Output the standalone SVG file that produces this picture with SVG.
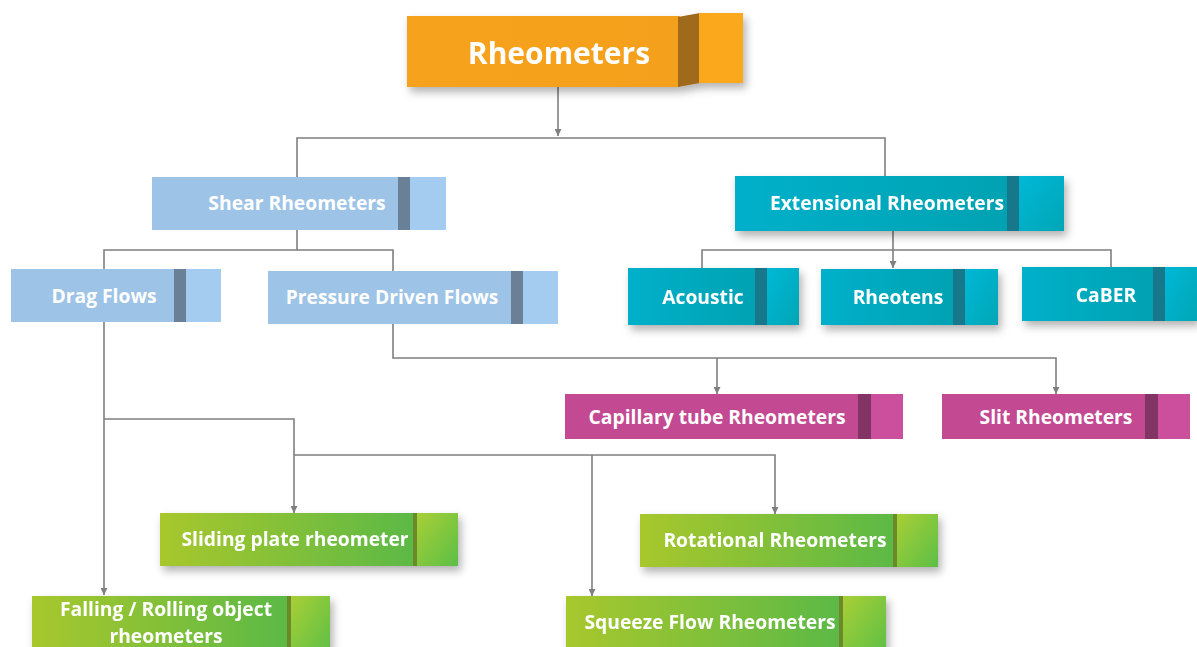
<svg xmlns="http://www.w3.org/2000/svg" width="1197" height="647" viewBox="0 0 1197 647">
<defs>
<style>
text{font-family:"Open Sans","Liberation Sans",sans-serif;font-weight:700;fill:#fff;text-anchor:middle}
.t{font-size:19.3px}
.c{fill:none;stroke:#7f7f7f;stroke-width:1.6}
.blue{fill:#9dc3e6}.blueD{fill:#6a8097}.blueL{fill:#a4ccf0}
.tealD{fill:#17788a}
.magD{fill:#823465}.mag{fill:#c34a92}.magL{fill:#cc4f9d}
.grnD{fill:#6c8a2c}
</style>
<linearGradient id="gOr" x1="0" y1="0" x2="1" y2="0"><stop offset="0" stop-color="#f7a21c"/><stop offset="1" stop-color="#f5a01a"/></linearGradient>
<linearGradient id="gTeal" x1="0" y1="0" x2="1" y2="0"><stop offset="0" stop-color="#00b0ca"/><stop offset="1" stop-color="#00a2b2"/></linearGradient>
<linearGradient id="gTealL" x1="0" y1="0" x2="1" y2="1"><stop offset="0" stop-color="#00b8d6"/><stop offset="1" stop-color="#00a6b6"/></linearGradient>
<linearGradient id="gGrn" x1="0" y1="0" x2="1" y2="0"><stop offset="0" stop-color="#a8c72c"/><stop offset="1" stop-color="#5cb946"/></linearGradient>
<linearGradient id="gGrnL" x1="0" y1="0" x2="1" y2="1"><stop offset="0" stop-color="#a8cf36"/><stop offset="1" stop-color="#5cbf46"/></linearGradient>
<filter id="sh" x="-10%" y="-20%" width="125%" height="160%"><feDropShadow dx="3" dy="5" stdDeviation="4" flood-color="#000" flood-opacity="0.3"/></filter>
<marker id="ar" viewBox="0 0 10 10" refX="10" refY="5" markerWidth="7" markerHeight="7" orient="auto" markerUnits="userSpaceOnUse"><path d="M0,0 L10,5 L0,10 z" fill="#7f7f7f"/></marker>
</defs>

<g id="connectors">
<path class="c" d="M558,87 V136" marker-end="url(#ar)"/>
<path class="c" d="M297,177 V138 H885 V176"/>
<path class="c" d="M297,230 V250 H104 V269"/>
<path class="c" d="M297,250 H393 V271"/>
<path class="c" d="M893,231 V268" marker-end="url(#ar)"/>
<path class="c" d="M702,268 V250 H1111 V267"/>
<path class="c" d="M393,324 V358 H1056 V394" marker-end="url(#ar)"/>
<path class="c" d="M717,358 V394" marker-end="url(#ar)"/>
<path class="c" d="M104,322 V595" marker-end="url(#ar)"/>
<path class="c" d="M104,419 H294 V513" marker-end="url(#ar)"/>
<path class="c" d="M294,455 H775 V514" marker-end="url(#ar)"/>
<path class="c" d="M592,455 V596" marker-end="url(#ar)"/>
</g>

<g id="n-rheometers" filter="url(#sh)">
<rect x="407" y="16" width="273" height="71" fill="url(#gOr)"/>
<polygon points="678,17 700,13 700,83 678,87" fill="#a06a1e"/>
<rect x="699" y="13" width="44" height="70" fill="#fba81e"/>
<text x="559" y="64" font-size="30">Rheometers</text>
</g>

<g id="n-shear">
<rect class="blue" x="152" y="177" width="248" height="53"/>
<rect class="blueD" x="398" y="177" width="12" height="53"/>
<rect class="blueL" x="410" y="177" width="36" height="53"/>
<text class="t" x="297" y="210">Shear Rheometers</text>
</g>

<g id="n-extensional" filter="url(#sh)">
<rect x="735" y="176" width="274" height="55" fill="url(#gTeal)"/>
<rect class="tealD" x="1007" y="176" width="12" height="55"/>
<rect x="1019" y="176" width="45" height="55" fill="url(#gTealL)"/>
<text class="t" x="887" y="210">Extensional Rheometers</text>
</g>

<g id="n-drag">
<rect class="blue" x="11" y="269" width="165" height="53"/>
<rect class="blueD" x="174" y="269" width="12" height="53"/>
<rect class="blueL" x="186" y="269" width="35" height="53"/>
<text class="t" x="104" y="303">Drag Flows</text>
</g>

<g id="n-pressure">
<rect class="blue" x="268" y="271" width="245" height="53"/>
<rect class="blueD" x="511" y="271" width="12" height="53"/>
<rect class="blueL" x="523" y="271" width="35" height="53"/>
<text class="t" x="392" y="304">Pressure Driven Flows</text>
</g>

<g id="n-acoustic" filter="url(#sh)">
<rect x="628" y="268" width="129" height="57" fill="url(#gTeal)"/>
<rect class="tealD" x="755" y="268" width="12" height="57"/>
<rect x="767" y="268" width="32" height="57" fill="url(#gTealL)"/>
<text class="t" x="703" y="304">Acoustic</text>
</g>

<g id="n-rheotens" filter="url(#sh)">
<rect x="821" y="269" width="134" height="56" fill="url(#gTeal)"/>
<rect class="tealD" x="953" y="269" width="12" height="56"/>
<rect x="965" y="269" width="33" height="56" fill="url(#gTealL)"/>
<text class="t" x="898" y="304">Rheotens</text>
</g>

<g id="n-caber" filter="url(#sh)">
<rect x="1022" y="267" width="133" height="54" fill="url(#gTeal)"/>
<rect class="tealD" x="1153" y="267" width="12" height="54"/>
<rect x="1165" y="267" width="32" height="54" fill="url(#gTealL)"/>
<text class="t" x="1106" y="302">CaBER</text>
</g>

<g id="n-capillary">
<rect class="mag" x="565" y="394" width="295" height="45"/>
<rect class="magD" x="858" y="394" width="13" height="45"/>
<rect class="magL" x="871" y="394" width="32" height="45"/>
<text class="t" x="717" y="424">Capillary tube Rheometers</text>
</g>

<g id="n-slit">
<rect class="mag" x="942" y="394" width="205" height="45"/>
<rect class="magD" x="1145" y="394" width="13" height="45"/>
<rect class="magL" x="1158" y="394" width="32" height="45"/>
<text class="t" x="1056" y="424">Slit Rheometers</text>
</g>

<g id="n-sliding" filter="url(#sh)">
<rect x="160" y="513" width="255" height="53" fill="url(#gGrn)"/>
<rect class="grnD" x="413" y="513" width="4" height="53"/>
<rect x="417" y="513" width="41" height="53" fill="url(#gGrnL)"/>
<text class="t" x="295" y="546">Sliding plate rheometer</text>
</g>

<g id="n-rotational" filter="url(#sh)">
<rect x="640" y="514" width="255" height="53" fill="url(#gGrn)"/>
<rect class="grnD" x="893" y="514" width="4" height="53"/>
<rect x="897" y="514" width="41" height="53" fill="url(#gGrnL)"/>
<text class="t" x="775" y="547">Rotational Rheometers</text>
</g>

<g id="n-falling" filter="url(#sh)">
<rect x="32" y="596" width="257" height="60" fill="url(#gGrn)"/>
<rect class="grnD" x="287" y="596" width="4" height="60"/>
<rect x="291" y="596" width="39" height="60" fill="url(#gGrnL)"/>
<text class="t" x="166" y="616">Falling / Rolling object</text>
<text class="t" x="166" y="643">rheometers</text>
</g>

<g id="n-squeeze" filter="url(#sh)">
<rect x="566" y="596" width="275" height="60" fill="url(#gGrn)"/>
<rect class="grnD" x="839" y="596" width="4" height="60"/>
<rect x="843" y="596" width="43" height="60" fill="url(#gGrnL)"/>
<text class="t" x="710" y="629">Squeeze Flow Rheometers</text>
</g>
</svg>
